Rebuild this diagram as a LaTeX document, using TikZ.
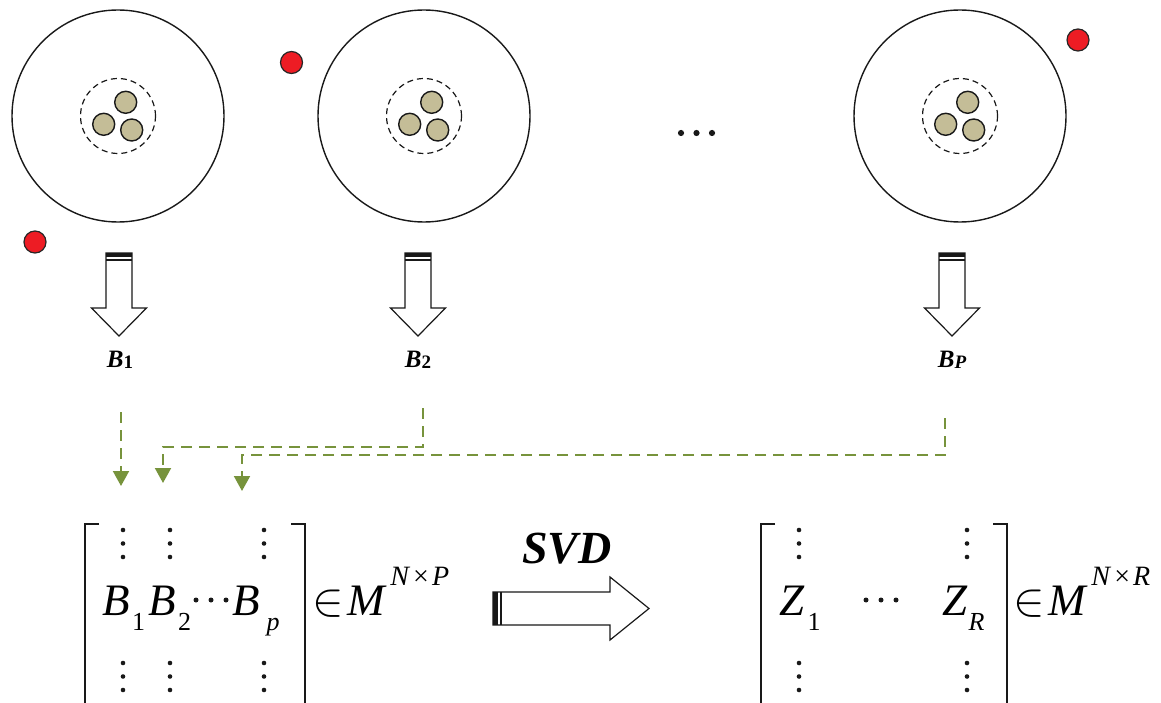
\documentclass[tikz,border=0pt]{standalone}
\usepackage{fontspec}
\setmainfont{Liberation Serif}
\usetikzlibrary{arrows.meta}
\definecolor{dgreen}{HTML}{77933C}
\definecolor{tanc}{HTML}{C4BD97}
\definecolor{redc}{HTML}{ED1C24}
\newcommand\mainsz{\fontsize{45}{45}\selectfont}
\newcommand\subsz{\fontsize{26}{26}\selectfont}
\newcommand\supsz{\fontsize{28}{28}\selectfont}
\newcommand\elemof{\scalebox{1.9}{$\in$}}
\begin{document}
\begin{tikzpicture}[x=1pt,y=-1pt,
  bigc/.style={circle,draw=black!90,line width=1.4pt,minimum size=212pt,inner sep=0pt},
  dashc/.style={circle,draw=black!90,line width=1.2pt,dash pattern=on 6pt off 4pt,minimum size=75pt,inner sep=0pt},
  smallc/.style={circle,draw=black!90,fill=tanc,line width=1.4pt,minimum size=22pt,inner sep=0pt},
  redd/.style={circle,draw=black!85,fill=redc,line width=1.2pt,minimum size=22pt,inner sep=0pt},
  hollow/.style={draw=black!90,line width=1.2pt,line join=miter,fill=white},
  gdash/.style={draw=dgreen,line width=2pt,dash pattern=on 11pt off 7pt,-{Triangle[width=16pt,length=15pt]}},
  lbl/.style={inner sep=0pt,font=\fontsize{25}{25}\selectfont\bfseries\itshape},
  mtx/.style={inner sep=0pt,font=\mainsz},
  brk/.style={draw=black!90,line width=1.6pt},
  dotf/.style={fill=black!90},
  downarr/.pic={
    \draw[hollow] (-13,0) -- (-13,55) -- (-27.5,55) -- (0,83) -- (27.5,55) -- (13,55) -- (13,0) -- cycle;
    \fill[black!90] (-13,0) rectangle (13,3.8);
    \draw[black!90,line width=1.2pt] (-13,7) -- (13,7);
  }]
\useasboundingbox (0,0) rectangle (1161,703);

% top circles
\foreach \cx/\n in {118/1,424/2,960/3}{
  \node[bigc] (c\n) at (\cx,116) {};
  \node[dashc] (d\n) at (\cx,116) {};
  \node[smallc] (sa\n) at (\cx+7.7,102.3) {};
  \node[smallc] (sb\n) at (\cx-14.3,124.3) {};
  \node[smallc] (sc\n) at (\cx+13.7,130) {};
}
\node[redd] (r1) at (35,242) {};
\node[redd] (r2) at (291.5,62.5) {};
\node[redd] (r3) at (1078,40) {};

% ellipsis
\foreach \x in {681,696.5,712}{\fill[black!90] (\x,133) circle (3.1pt);}

% down arrows
\pic at (119,253) {downarr};
\pic at (418,253) {downarr};
\pic at (952,253) {downarr};

% labels
\node[lbl,anchor=base] (b1) at (120,367) {B\upshape\raisebox{-1.5pt}{\fontsize{19}{19}\selectfont 1}};
\node[lbl,anchor=base] (b2) at (418,367) {B\upshape\raisebox{-1.5pt}{\fontsize{19}{19}\selectfont 2}};
\node[lbl,anchor=base] (bp) at (952,367) {B\raisebox{-1.5pt}{\fontsize{19}{19}\selectfont P}};

% green dashed connectors
\coordinate (s1) at (121,412);
\coordinate (e1) at (121,486);
\coordinate (s2) at (423,408);
\coordinate (k2) at (423,447);
\coordinate (e2) at (163,483);
\coordinate (s3) at (945,418);
\coordinate (k3) at (945,455);
\coordinate (e3) at (242,491);
\draw[gdash] (s1) -- (e1);
\draw[gdash] (s2) -- (k2) -| (e2);
\draw[gdash] (s3) -- (k3) -| (e3);

% matrix 1
\draw[brk] (99,524) -- (85,524) -- (85,712);
\draw[brk] (291,524) -- (305,524) -- (305,712);
\foreach \x in {123,170,264}{
  \foreach \y in {530,543.5,557,663,676.5,690}{\fill[dotf] (\x,\y) circle (2.3pt);}
}
\node[mtx,anchor=base west] (mb1) at (102,615) {\textit{B}\hspace{2.5pt}\raisebox{-15pt}{\subsz 1}};
\node[mtx,anchor=base west] (mb2) at (148,615) {\textit{B}\hspace{2.5pt}\raisebox{-15pt}{\subsz 2}};
\foreach \x in {196,211,226}{\fill[dotf] (\x,600) circle (2.5pt);}
\node[mtx,anchor=base west] (mbp) at (232,615) {\textit{B}\hspace{7pt}\raisebox{-15pt}{\subsz\textit{p}}};
\node[mtx,anchor=base west] (m1set) at (312,615) {\elemof\hspace{4pt}\textit{M}\hspace{3pt}\raisebox{30pt}{\supsz\textit{N}\hspace{3pt}×\hspace{3pt}\textit{P}}};

% SVD arrow
\node[inner sep=0pt,font=\fontsize{46}{46}\selectfont\bfseries\itshape,anchor=base] (svd) at (567,563) {SVD};
\draw[hollow] (493,592) -- (610,592) -- (610,577) -- (649,608.5) -- (610,640) -- (610,625) -- (493,625) -- cycle;
\fill[black!90] (493,592) rectangle (497.5,625);
\draw[black!90,line width=1.2pt] (501,592) -- (501,625);

% matrix 2
\draw[brk] (775,524) -- (761,524) -- (761,712);
\draw[brk] (993,524) -- (1007,524) -- (1007,712);
\foreach \x in {799,967}{
  \foreach \y in {530,543.5,557,663,676.5,690}{\fill[dotf] (\x,\y) circle (2.3pt);}
}
\node[mtx,anchor=base west] (mz1) at (779,615) {\textit{Z}\hspace{3pt}\raisebox{-15pt}{\subsz 1}};
\foreach \x in {866,881,896}{\fill[dotf] (\x,600) circle (2.5pt);}
\node[mtx,anchor=base west] (mzr) at (942,615) {\textit{Z}\hspace{1pt}\raisebox{-15pt}{\subsz\textit{R}}};
\node[mtx,anchor=base west] (m2set) at (1013,615) {\elemof\hspace{4pt}\textit{M}\hspace{3pt}\raisebox{30pt}{\supsz\textit{N}\hspace{3pt}×\hspace{3pt}\textit{R}}};
\end{tikzpicture}
\end{document}
